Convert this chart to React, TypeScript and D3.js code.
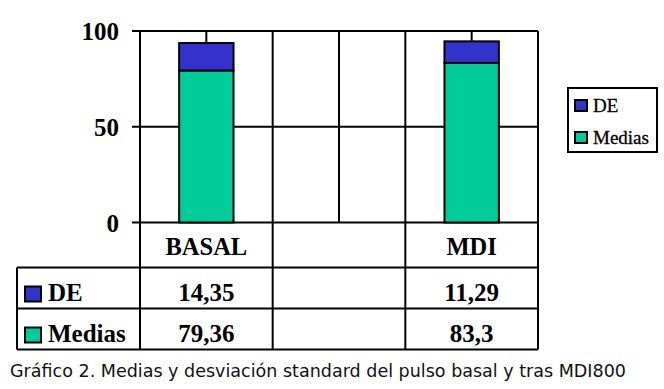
import * as d3 from "d3";

const CATEGORIES = ["BASAL", "", "MDI"];
const SERIES = ["DE", "Medias"];
const DE_VALUES = [14.35, null, 11.29];
const MEDIAS_VALUES = [79.36, null, 83.3];
const Y_TICKS = [0, 50, 100];
const COLORS = ["#3333CC", "#00CC99"];
const CAPTION = "Gráfico 2. Medias y desviación standard del pulso basal y tras MDI800";

const WIDTH = 664;
const HEIGHT = 389;
const SERIF = "'Liberation Serif', 'Times New Roman', serif";

export default function App() {
  const plot = { left: 140, right: 538, top: 31, bottom: 222.5 };
  const table = { left: 17, catBottom: 267.5, rowH: 41 };

  const x = d3
    .scaleBand<number>()
    .domain(CATEGORIES.map((_, i) => i))
    .range([plot.left, plot.right])
    .padding(0);
  const y = d3.scaleLinear().domain([0, 100]).range([plot.bottom, plot.top]);
  const color = d3.scaleOrdinal<string, string>().domain(SERIES).range(COLORS);

  const barW = x.bandwidth() * 0.41;
  const fmt = (v: number | null) => (v == null ? "" : String(v).replace(".", ","));
  const rows = [
    { name: "DE", values: DE_VALUES },
    { name: "Medias", values: MEDIAS_VALUES },
  ];
  const tableBottom = table.catBottom + table.rowH * rows.length;
  const boundaries = CATEGORIES.map((_, i) => x(i)!).concat([plot.right]);

  return (
    <svg
      width={WIDTH}
      height={HEIGHT}
      style={{ position: "absolute", left: 0, top: 0, background: "#fff" }}
    >
      {/* horizontal gridlines + ticks */}
      {Y_TICKS.map((t) => (
        <g key={t}>
          <line x1={plot.left - 8} x2={plot.right} y1={y(t)} y2={y(t)} stroke="#000" strokeWidth={2} />
          <text
            x={119}
            y={y(t)}
            dy="0.36em"
            textAnchor="end"
            fontFamily={SERIF}
            fontWeight="bold"
            fontSize={25}
          >
            {t}
          </text>
        </g>
      ))}

      {/* vertical gridlines at category centres */}
      {CATEGORIES.map((_, i) => (
        <line
          key={"c" + i}
          x1={x(i)! + x.bandwidth() / 2}
          x2={x(i)! + x.bandwidth() / 2}
          y1={plot.top}
          y2={plot.bottom}
          stroke="#000"
          strokeWidth={2}
        />
      ))}

      {/* category borders / data table columns */}
      {boundaries.map((bx, i) => (
        <line key={"b" + i} x1={bx} x2={bx} y1={plot.top} y2={tableBottom} stroke="#000" strokeWidth={2} />
      ))}

      {/* stacked bars */}
      {CATEGORIES.map((_, i) => {
        const m = MEDIAS_VALUES[i];
        const d = DE_VALUES[i];
        if (m == null || d == null) return null;
        const bx = x(i)! + (x.bandwidth() - barW) / 2;
        return (
          <g key={"bar" + i}>
            <rect x={bx} y={y(m)} width={barW} height={y(0) - y(m)} fill={color("Medias")} stroke="#000" strokeWidth={2} />
            <rect x={bx} y={y(m + d)} width={barW} height={y(m) - y(m + d)} fill={color("DE")} stroke="#000" strokeWidth={2} />
          </g>
        );
      })}

      {/* category labels */}
      {CATEGORIES.map((c, i) => (
        <text
          key={"l" + i}
          x={x(i)! + x.bandwidth() / 2}
          y={255}
          textAnchor="middle"
          fontFamily={SERIF}
          fontWeight="bold"
          fontSize={24.5}
        >
          {c}
        </text>
      ))}

      {/* data table rows */}
      {rows.map((r, ri) => {
        const top = table.catBottom + ri * table.rowH;
        return (
          <g key={r.name}>
            <line x1={table.left} x2={plot.right} y1={top} y2={top} stroke="#000" strokeWidth={2} />
            <rect x={25} y={top + 19} width={16} height={15} fill={color(r.name)} stroke="#000" strokeWidth={2} />
            <text x={48} y={top + 33} fontFamily={SERIF} fontWeight="bold" fontSize={25}>
              {r.name}
            </text>
            {r.values.map((v, i) => (
              <text
                key={i}
                x={x(i)! + x.bandwidth() / 2}
                y={top + 33}
                textAnchor="middle"
                fontFamily={SERIF}
                fontWeight="bold"
                fontSize={25}
              >
                {fmt(v)}
              </text>
            ))}
          </g>
        );
      })}
      <line x1={table.left} x2={plot.right} y1={tableBottom} y2={tableBottom} stroke="#000" strokeWidth={2} />
      <line x1={table.left} x2={table.left} y1={table.catBottom} y2={tableBottom} stroke="#000" strokeWidth={2} />

      {/* legend */}
      <g>
        <rect x={568} y={88} width={89} height={64} fill="#fff" stroke="#000" strokeWidth={2} />
        {SERIES.map((s, i) => (
          <g key={s} transform={`translate(575, ${100 + i * 32})`}>
            <rect x={0} y={0} width={12} height={11} fill={color(s)} stroke="#000" strokeWidth={2} />
            <text x={18} y={12} fontFamily={SERIF} fontSize={19} stroke="#000" strokeWidth={0.3}>
              {s}
            </text>
          </g>
        ))}
      </g>

      {/* caption */}
      <text
        x={10}
        y={376.5}
        fontFamily="'DejaVu Sans', Verdana, sans-serif"
        fontSize={16.8}
        fill="#111"
        textLength={616}
        lengthAdjust="spacingAndGlyphs"
      >
        {CAPTION}
      </text>
    </svg>
  );
}
